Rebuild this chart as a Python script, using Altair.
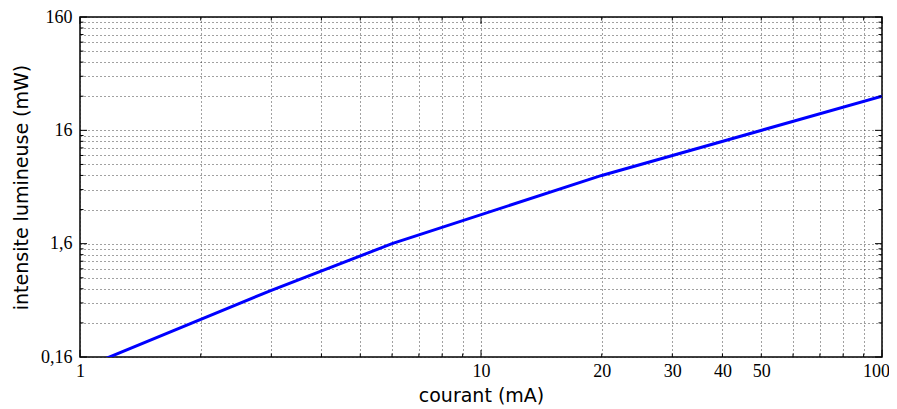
import altair as alt
import pandas as pd

# data
courant = [1, 3, 6, 20, 100]
intensite = [0.125, 0.62, 1.6, 6.4, 32]

x_grid = [1, 2, 3, 4, 5, 6, 7, 8, 9, 10, 20, 30, 40, 50, 60, 70, 80, 90, 100]
x_labels = [1, 10, 20, 30, 40, 50, 100]
x_major = [1, 10, 100]
y_ticks = [0.16, 1.6, 16, 160]
y_tick_labels = ["0,16", "1,6", "16", "160"]
y_mult = [1, 2, 3, 4, 5, 6, 7, 8, 9]
y_grid = [round(t * k, 6) for t in y_ticks[:3] for k in y_mult] + [160]

W, H = 802, 340
SERIF = "'Liberation Serif', 'DejaVu Serif', serif"
SANS = "'DejaVu Sans', sans-serif"

xlab_expr = " || ".join(f"abs(datum.value - {v}) < 1e-6" for v in x_labels)
xlab_expr = f"({xlab_expr}) ? datum.label : ''"
ylab_expr = "''"
for v, lab in reversed(list(zip(y_ticks, y_tick_labels))):
    ylab_expr = f"abs(datum.value - {v}) < {v * 1e-4} ? '{lab}' : ({ylab_expr})"

xs = alt.Scale(type="log", domain=[1, 100], nice=False)
ys = alt.Scale(type="log", domain=[0.16, 160], nice=False)

line_df = pd.DataFrame({"courant": courant, "intensite": intensite})

line = alt.Chart(line_df).mark_line(color="#0000ff", strokeWidth=3, clip=True).encode(
    x=alt.X("courant:Q", scale=xs, axis=alt.Axis(
        values=x_grid, labelExpr=xlab_expr, grid=True, ticks=False, tickSize=0,
        domain=False, title="courant (mA)", labelPadding=5, labelBaseline="top",
        labelOffset=alt.condition("datum.value >= 99", alt.value(-6), alt.value(0)),
        labelFont=SERIF, labelFontSize=18, labelColor="black",
        titleFont=SANS, titleFontSize=19, titleFontWeight="normal",
        titleColor="black", titleY=44, titleBaseline="alphabetic", labelFlush=False,
        labelOverlap=False)),
    y=alt.Y("intensite:Q", scale=ys, axis=alt.Axis(
        values=y_grid, labelExpr=ylab_expr, grid=True, ticks=False, tickSize=0,
        domain=False, title="intensite lumineuse (mW)", labelPadding=8,
        labelFont=SERIF, labelFontSize=18, labelColor="black",
        titleFont=SANS, titleFontSize=19, titleFontWeight="normal",
        titleColor="black", titleX=-53, titleY=H / 2, titleAngle=270,
        titleAlign="center", titleBaseline="alphabetic", labelFlush=False,
        labelOverlap=False)),
)

# inward ticks
xt_df = pd.DataFrame({"v": x_grid, "major": [v in x_major for v in x_grid]})
yt_df = pd.DataFrame({"v": y_grid, "major": [any(abs(v - t) < 1e-6 * t for t in y_ticks) for v in y_grid]})

def xticks(major, y0, y1):
    return alt.Chart(xt_df).transform_filter(
        alt.datum.major == major
    ).mark_rule(color="black", strokeWidth=1).encode(
        x=alt.X("v:Q", scale=xs), y=alt.value(y0), y2=alt.value(y1))

def yticks(major, x0, x1):
    return alt.Chart(yt_df).transform_filter(
        alt.datum.major == major
    ).mark_rule(color="black", strokeWidth=1).encode(
        y=alt.Y("v:Q", scale=ys), x=alt.value(x0), x2=alt.value(x1))

tick_layers = [
    xticks(True, H, H - 7), xticks(False, H, H - 3.5),
    xticks(True, 0, 7), xticks(False, 0, 3.5),
    yticks(True, 0, 7), yticks(False, 0, 3.5),
    yticks(True, W, W - 7), yticks(False, W, W - 3.5),
]

chart = alt.layer(line, *tick_layers).properties(
    width=W, height=H,
    autosize=alt.AutoSizeParams(type="none"),
    padding={"left": 72, "top": 9, "right": 7, "bottom": 50},
).configure_view(
    stroke="black", strokeWidth=1.5
).configure_axis(
    gridColor="#222", gridDash=[1, 3], gridWidth=1, gridOpacity=0.85
)

chart.save("out.html", embed_options={"renderer": "svg", "actions": False})
